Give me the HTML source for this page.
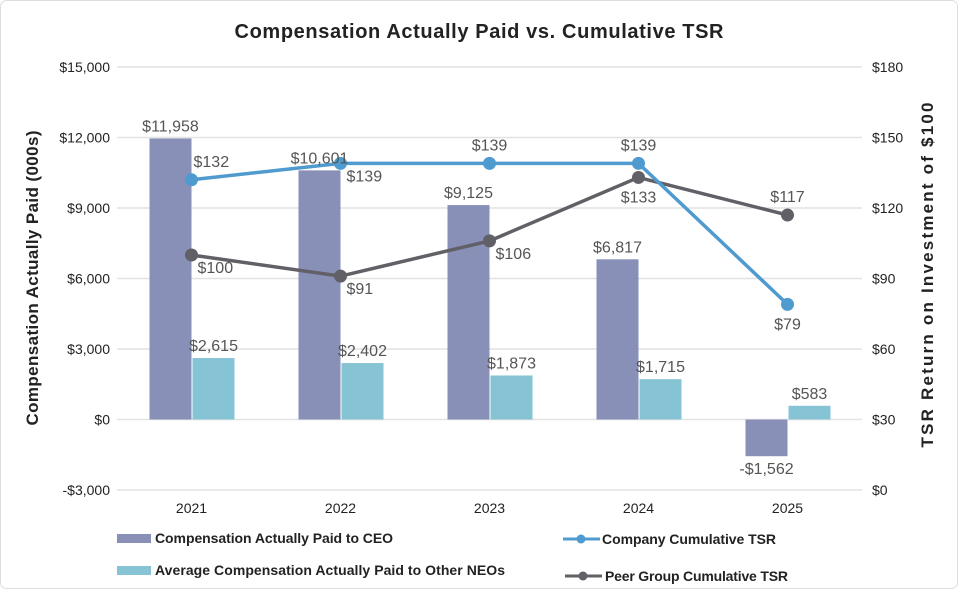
<!DOCTYPE html>
<html><head><meta charset="utf-8"><style>
body{margin:0;background:#fff;font-family:"Liberation Sans",sans-serif}
svg text{font-family:"Liberation Sans",sans-serif}
</style></head><body>
<svg width="958" height="590" viewBox="0 0 958 590" id="c">
<rect x="0.5" y="0.5" width="957" height="588" rx="6" fill="#fff" stroke="#ddd"/>
<text x="479" y="38" text-anchor="middle" font-size="20" font-weight="bold" fill="#222" textLength="489">Compensation Actually Paid vs. Cumulative TSR</text>
<text transform="translate(38,278) rotate(-90)" text-anchor="middle" font-size="17" font-weight="bold" fill="#222" textLength="295">Compensation Actually Paid (000s)</text>
<text transform="translate(933,275) rotate(-90)" text-anchor="middle" font-size="17" font-weight="bold" fill="#222" textLength="345">TSR Return on Investment of $100</text>
<g id="grid"></g><g id="bars"></g><g id="lines"></g><g id="labels"></g>
<g>
<rect x="117" y="534" width="34" height="9" fill="#8990b8"/>
<text x="155" y="543" font-size="14" font-weight="bold" fill="#222" textLength="238">Compensation Actually Paid to CEO</text>
<rect x="117" y="566" width="34" height="9" fill="#85c3d5"/>
<text x="155" y="575" font-size="14" font-weight="bold" fill="#222" textLength="350">Average Compensation Actually Paid to Other NEOs</text>
<line x1="563" y1="539" x2="600" y2="539" stroke="#4f9bcf" stroke-width="3"/>
<circle cx="581" cy="539" r="4.5" fill="#4f9bcf"/>
<text x="602" y="544" font-size="14" font-weight="bold" fill="#222" textLength="174">Company Cumulative TSR</text>
<line x1="565" y1="576" x2="602" y2="576" stroke="#606066" stroke-width="3"/>
<circle cx="583" cy="576" r="4.5" fill="#606066"/>
<text x="605" y="581" font-size="14" font-weight="bold" fill="#222" textLength="183">Peer Group Cumulative TSR</text>
</g>
</svg>
<script>
const years=["2021","2022","2023","2024","2025"];
const ceo=[11958,10601,9125,6817,-1562];
const neo=[2615,2402,1873,1715,583];
const company=[132,139,139,139,79];
const peer=[100,91,106,133,117];
const leftTicks=[-3000,0,3000,6000,9000,12000,15000];
const rightTicks=[0,30,60,90,120,150,180];
const companyPos=["ar","br","a","a","b"];
const peerPos=["br","br","br","b","a"];
const NS="http://www.w3.org/2000/svg";
const plotTop=67,plotBot=490,x0=117,step=149;
const yL=v=>plotBot-(v+3000)/18000*(plotBot-plotTop);
const yR=v=>plotBot-v/180*(plotBot-plotTop);
const xC=i=>x0+step*(i+0.5);
function mk(p,t,a){const e=document.createElementNS(NS,t);for(const k in a)e.setAttribute(k,a[k]);document.getElementById(p).appendChild(e);return e;}
const fmt=v=>(v<0?"-$":"$")+Math.abs(v).toLocaleString("en-US");
leftTicks.forEach(v=>{
 const l=mk("grid","line",{x1:x0,x2:x0+step*5,y1:yL(v),y2:yL(v),stroke:"#e2e2e2","stroke-width":1.5});
 
 
 const t=mk("grid","text",{x:110,y:yL(v)+5,"text-anchor":"end","font-size":14,fill:"#222"});t.textContent=fmt(v);
 
 
});
rightTicks.forEach(v=>{
 const t=mk("grid","text",{x:872,y:yR(v)+5,"font-size":14,fill:"#222"});t.textContent="$"+v;
 
 
});
years.forEach((y,i)=>{
 const t=mk("grid","text",{x:xC(i),y:513,"text-anchor":"middle","font-size":14,fill:"#222"});t.textContent=y;
 
 
});
const bw=42,z=yL(0);
ceo.forEach((v,i)=>{
 const y=yL(v);
 const r=mk("bars","rect",{x:xC(i)-bw,y:Math.min(y,z),width:bw,height:Math.abs(z-y),fill:"#8990b8"});
 
 
 const t=mk("labels","text",{x:xC(i)-bw/2,y:v<0?y+18:y-7,"text-anchor":"middle","font-size":16,fill:"#555"});t.textContent=fmt(v);
 
 
});
neo.forEach((v,i)=>{
 const y=yL(v);
 const r=mk("bars","rect",{x:xC(i)+1,y:y,width:bw,height:z-y,fill:"#85c3d5"});
 
 
 const t=mk("labels","text",{x:xC(i)+bw/2+1,y:y-7,"text-anchor":"middle","font-size":16,fill:"#555"});t.textContent=fmt(v);
 
 
});
function series(vals,pos,col,nm){
 const pl=mk("lines","polyline",{points:vals.map((v,i)=>xC(i)+","+yR(v)).join(" "),fill:"none",stroke:col,"stroke-width":3.5});
 
 
 vals.forEach((v,i)=>{
  const c=mk("lines","circle",{cx:xC(i),cy:yR(v),r:6.5,fill:col});
  
  
  const p=pos[i];let x=xC(i),y=yR(v),a="middle";
  if(p==="a")y-=13;else if(p==="b")y+=25;else if(p==="ar"){x+=2;y-=13;a="start";}else{x+=6;y+=18;a="start";}
  const t=mk("labels","text",{x:x,y:y,"text-anchor":a,"font-size":16,fill:"#555"});t.textContent="$"+v;
  
  
 });
}
series(peer,peerPos,"#606066","peer-tsr");
series(company,companyPos,"#4f9bcf","company-tsr");
</script>
</body></html>
